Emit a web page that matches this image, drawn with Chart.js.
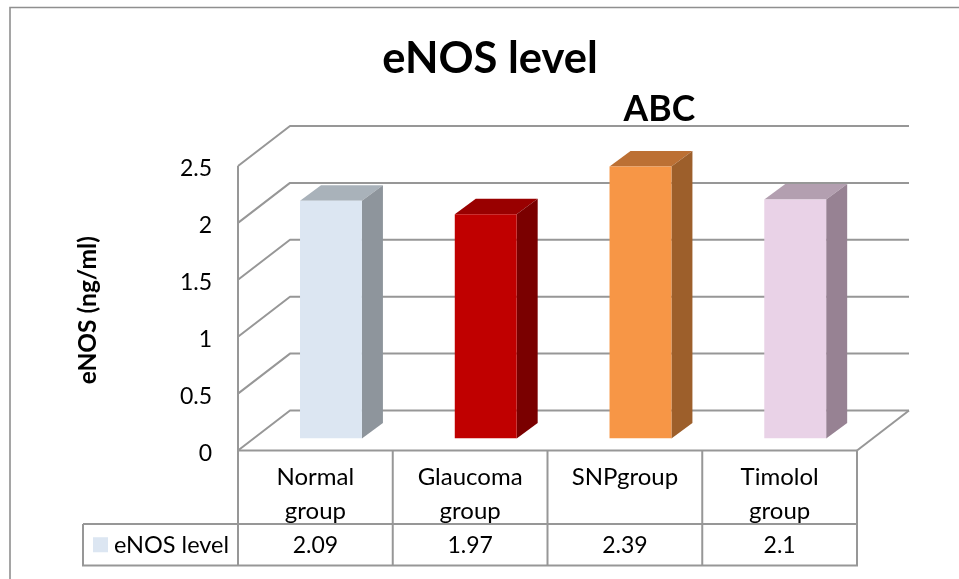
<!DOCTYPE html>
<html>
<head>
<meta charset="utf-8">
<style>html,body{margin:0;padding:0;background:#fff;overflow:hidden}#w{position:relative;width:959px;height:579px}</style>
<script src="https://cdn.jsdelivr.net/npm/chart.js@4"></script>
</head>
<body>
<div id="w"><canvas id="c" width="959" height="579"></canvas></div>
<script>
const categories = [["Normal","group"],["Glaucoma","group"],["SNPgroup"],["Timolol","group"]];
const seriesName = "eNOS level";
const values = [2.09,1.97,2.39,2.1];
const tableLabels = ["2.09","1.97","2.39","2.1"];
const annotations = ["","","ABC",""];
const frontColors = ["#dce6f2","#c00000","#f79646","#e9d2e7"];
const topColors = ["#a9b2ba","#990000","#bc7034","#b39fb0"];
const sideColors = ["#8e959c","#7a0000","#9d5f2b","#978293"];

const FONT = "Lato, Carlito, sans-serif";
const LINE = "#979797";
const DEPTH = {x:52,y:-40};          // floor depth of the 3D box
const BAR_SHIFT = {x:15.6,y:-12};    // front face of bars within the box
const BAR_DEPTH = {x:21,y:-15.5};    // depth of a bar
const TABLE = {left:83,rowTop:524,bottom:565.5,swatch:15};

function seg(ctx,pts){ctx.beginPath();pts.forEach((p,i)=>i?ctx.lineTo(p[0],p[1]):ctx.moveTo(p[0],p[1]));ctx.stroke();}
function poly(ctx,pts,fill){ctx.fillStyle=fill;ctx.beginPath();pts.forEach((p,i)=>i?ctx.lineTo(p[0],p[1]):ctx.moveTo(p[0],p[1]));ctx.closePath();ctx.fill();}
function nudge(chart,scale,name,dy){
  const orig=scale[name];
  scale[name]=function(...args){chart.ctx.save();chart.ctx.translate(0,dy);orig.apply(this,args);chart.ctx.restore();};
}

const box3d = {
  id:'box3d',
  afterLayout(chart){
    const t = chart.titleBlock;
    if(t){t.left += 61.5; t.right += 61.5;}
    nudge(chart,chart.scales.y,'drawLabels',3);
    nudge(chart,chart.scales.y,'drawTitle',2);
  },
  beforeDraw(chart){
    const ctx=chart.ctx;
    ctx.save();
    ctx.strokeStyle="#8f8f8f";ctx.lineWidth=1.6;
    seg(ctx,[[10,579],[10,7.5],[959,7.5]]);
    ctx.restore();
  },
  beforeDatasetsDraw(chart){
    const ctx=chart.ctx,y=chart.scales.y,a=chart.chartArea;
    ctx.save();
    ctx.strokeStyle=LINE;ctx.lineWidth=2;ctx.lineJoin='round';
    y.ticks.forEach(t=>{
      const p=y.getPixelForValue(t.value);
      seg(ctx,[[a.left,p],[a.left+DEPTH.x,p+DEPTH.y],[a.right+DEPTH.x,p+DEPTH.y]]);
    });
    seg(ctx,[[a.right,a.bottom],[a.right+DEPTH.x,a.bottom+DEPTH.y]]);
    seg(ctx,[[a.left,a.top],[a.left,a.bottom],[a.right,a.bottom]]);
    ctx.restore();
  },
  beforeDatasetDraw(chart){
    const ctx=chart.ctx;
    ctx.save();
    ctx.translate(BAR_SHIFT.x,BAR_SHIFT.y);
    chart.getDatasetMeta(0).data.forEach((el,i)=>{
      const l=el.x-el.width/2,r=el.x+el.width/2,t=el.y,b=el.base,dx=BAR_DEPTH.x,dy=BAR_DEPTH.y;
      poly(ctx,[[l,t],[l+dx,t+dy],[r+dx,t+dy],[r,t]],topColors[i]);
      poly(ctx,[[r,t],[r+dx,t+dy],[r+dx,b+dy],[r,b]],sideColors[i]);
    });
  },
  afterDatasetDraw(chart){chart.ctx.restore();},
  afterDraw(chart){
    const ctx=chart.ctx,x=chart.scales.x,a=chart.chartArea;
    const w=a.width/categories.length;
    ctx.save();
    ctx.strokeStyle=LINE;ctx.lineWidth=2;
    seg(ctx,[[TABLE.left,TABLE.rowTop],[a.right,TABLE.rowTop],[a.right,TABLE.bottom],[TABLE.left,TABLE.bottom],[TABLE.left,TABLE.rowTop]]);
    categories.forEach((_,i)=>{
      const e=x.getPixelForValue(i)-w/2;
      seg(ctx,[[e,a.bottom],[e,TABLE.bottom]]);
    });
    seg(ctx,[[a.right,a.bottom],[a.right,TABLE.bottom]]);
    const mid=(TABLE.rowTop+TABLE.bottom)/2;
    ctx.fillStyle=frontColors[0];
    ctx.fillRect(TABLE.left+10,mid-TABLE.swatch/2,TABLE.swatch,TABLE.swatch);
    ctx.fillStyle="#000";
    ctx.font="23.5px "+FONT;ctx.textBaseline="middle";ctx.textAlign="left";
    ctx.fillText(seriesName,TABLE.left+31,mid+1);
    ctx.font="23px "+FONT;ctx.textAlign="center";
    tableLabels.forEach((s,i)=>ctx.fillText(s,x.getPixelForValue(i),mid+1));
    ctx.font="bold 35.5px "+FONT;ctx.textBaseline="alphabetic";
    chart.getDatasetMeta(0).data.forEach((el,i)=>{
      if(annotations[i]) ctx.fillText(annotations[i],el.x+34.5,el.y-57.5);
    });
    ctx.restore();
  }
};

new Chart(document.getElementById('c'),{
  type:'bar',
  data:{labels:categories,datasets:[{label:seriesName,data:values,backgroundColor:frontColors,borderWidth:0,barPercentage:0.4,categoryPercentage:1}]},
  plugins:[box3d],
  options:{
    responsive:false,animation:false,
    layout:{padding:{left:0,right:102,top:0,bottom:0}},
    plugins:{
      legend:{display:false},tooltip:{enabled:false},
      title:{display:true,text:"eNOS level",color:"#000",font:{family:FONT,size:43.5,weight:'bold',lineHeight:1.2},padding:{top:33,bottom:80.8}}
    },
    scales:{
      x:{
        grid:{display:false},border:{display:false},
        afterFit(s){s.height=128.5;},
        ticks:{color:"#000",padding:2,maxRotation:0,autoSkip:false,font:{family:FONT,size:24,lineHeight:1.4}}
      },
      y:{
        min:0,max:2.5,
        grid:{display:false,drawTicks:false},border:{display:false},
        afterFit(s){s.width=238;},
        ticks:{stepSize:0.5,color:"#000",padding:26,font:{family:FONT,size:23},callback:v=>String(v)},
        title:{display:true,text:"eNOS (ng/ml)",color:"#000",font:{family:FONT,size:24.5,weight:'bold',lineHeight:1.2},padding:{top:73,bottom:0}}
      }
    }
  }
});
</script>
</body>
</html>
